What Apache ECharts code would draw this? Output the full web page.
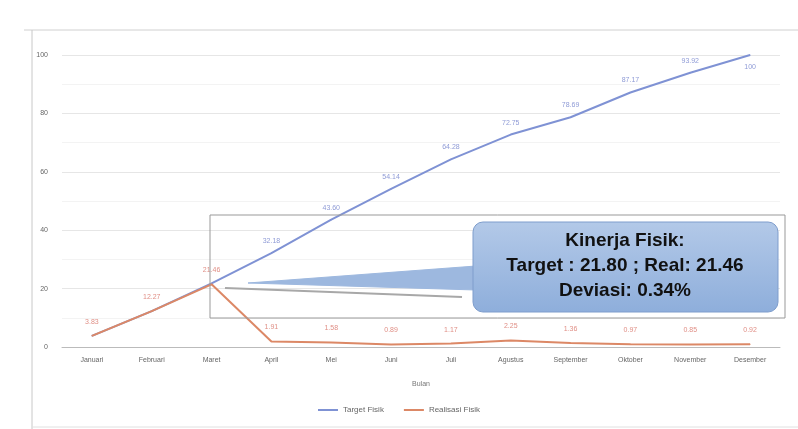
<!DOCTYPE html>
<html>
<head>
<meta charset="utf-8">
<script src="https://cdn.jsdelivr.net/npm/echarts@6/dist/echarts.min.js"></script>
<style>html,body{margin:0;padding:0;background:#fff}#c{width:798px;height:429px}</style>
</head>
<body>
<div id="c"></div>
<script>
var months = ['Januari','Februari','Maret','April','Mei','Juni','Juli','Agustus','September','Oktober','November','Desember'];
var targetFisik = [3.83, 12.27, 21.80, 32.18, 43.60, 54.14, 64.28, 72.75, 78.69, 87.17, 93.92, 100];
var realisasiFisik = [3.83, 12.27, 21.46, 1.91, 1.58, 0.89, 1.17, 2.25, 1.36, 0.97, 0.85, 0.92];
var yTicks = [0, 20, 40, 60, 80, 100];
var calloutLines = ['Kinerja Fisik:', 'Target : 21.80 ; Real: 21.46', 'Deviasi: 0.34%'];

var targetData = targetFisik.map(function(v, i){
  var item = {value: v};
  if (i < 3) item.label = {show: false};
  if (i === 11) item.label = {position: 'bottom', distance: 8, offset: [6, 0]};
  return item;
});

var chart = echarts.init(document.getElementById('c'));
chart.setOption({
  animation: false,
  backgroundColor: '#fff',
  grid: {left: 62, right: 18, top: 55, bottom: 82},
  legend: {
    bottom: 10, left: 'center', itemWidth: 20, itemHeight: 2, itemGap: 20,
    icon: 'rect',
    textStyle: {fontSize: 8, color: '#666', fontFamily: 'Liberation Sans'},
    data: ['Target Fisik', 'Realisasi Fisik']
  },
  xAxis: {
    type: 'category', data: months, boundaryGap: true,
    name: 'Bulan', nameLocation: 'middle', nameGap: 34,
    nameTextStyle: {fontSize: 7, color: '#777', fontFamily: 'Liberation Sans'},
    axisLine: {lineStyle: {color: '#bbb'}},
    axisTick: {show: false},
    axisLabel: {fontSize: 7, color: '#666', margin: 10, fontFamily: 'Liberation Sans'}
  },
  yAxis: {
    type: 'value', min: yTicks[0], max: yTicks[yTicks.length - 1], interval: 20,
    axisLine: {show: false}, axisTick: {show: false},
    axisLabel: {fontSize: 7, color: '#666', margin: 14, fontFamily: 'Liberation Sans'},
    splitLine: {lineStyle: {color: '#e6e6e6'}},
    minorTick: {show: false, splitNumber: 2},
    minorSplitLine: {show: true, lineStyle: {color: '#f3f3f3'}}
  },
  series: [
    {
      name: 'Target Fisik', type: 'line', data: targetData,
      symbol: 'circle', symbolSize: 1, showSymbol: true,
      lineStyle: {color: '#7f92d4', width: 2}, itemStyle: {color: '#7f92d4'},
      label: {
        show: true, position: 'top', distance: 8, fontSize: 7, color: '#8f9bd6',
        fontFamily: 'Liberation Sans',
        formatter: function(p){ return p.value === 100 ? '100' : p.value.toFixed(2); }
      },
      labelLayout: {hideOverlap: false},
      z: 2
    },
    {
      name: 'Realisasi Fisik', type: 'line', data: realisasiFisik,
      symbol: 'circle', symbolSize: 1, showSymbol: true,
      lineStyle: {color: '#dc8866', width: 2}, itemStyle: {color: '#dc8866'},
      label: {
        show: true, position: 'top', distance: 10, fontSize: 7, color: '#e08f86',
        fontFamily: 'Liberation Sans',
        formatter: function(p){ return p.value.toFixed(2); }
      },
      labelLayout: {hideOverlap: false},
      z: 3
    }
  ],
  graphic: [
    {type: 'line', shape: {x1: 24, y1: 30, x2: 798, y2: 30}, style: {stroke: '#d0d0d0', lineWidth: 1}, z: 0},
    {type: 'line', shape: {x1: 32, y1: 30, x2: 32, y2: 429}, style: {stroke: '#c8c8c8', lineWidth: 1}, z: 0},
    {type: 'line', shape: {x1: 32, y1: 427, x2: 798, y2: 427}, style: {stroke: '#e0e0e0', lineWidth: 1}, z: 0},
    {type: 'rect', shape: {x: 210, y: 215, width: 575, height: 103}, style: {fill: 'rgba(0,0,0,0)', stroke: '#999', lineWidth: 1}, z: 10},
    {type: 'line', shape: {x1: 225, y1: 288, x2: 462, y2: 297}, style: {stroke: '#a8a8a8', lineWidth: 2}, z: 10},
    {type: 'polygon', shape: {points: [[248, 283], [476, 266], [476, 290]]}, style: {fill: '#9db8df', stroke: '#9db8df'}, z: 11},
    {type: 'rect', shape: {x: 473, y: 222, width: 305, height: 90, r: 10},
     style: {fill: new echarts.graphic.LinearGradient(0, 0, 0, 1, [{offset: 0, color: '#b3c9e8'}, {offset: 1, color: '#8eaedb'}]), stroke: '#7e9dcc', lineWidth: 1}, z: 11},
    {type: 'text', z: 12, x: 625, y: 241,
     style: {text: calloutLines[0], fill: '#111', font: 'bold 19px "Liberation Sans"', textAlign: 'center', textVerticalAlign: 'middle'}},
    {type: 'text', z: 12, x: 625, y: 266,
     style: {text: calloutLines[1], fill: '#111', font: 'bold 19px "Liberation Sans"', textAlign: 'center', textVerticalAlign: 'middle'}},
    {type: 'text', z: 12, x: 625, y: 291,
     style: {text: calloutLines[2], fill: '#111', font: 'bold 19px "Liberation Sans"', textAlign: 'center', textVerticalAlign: 'middle'}}
  ]
});
</script>
</body>
</html>
